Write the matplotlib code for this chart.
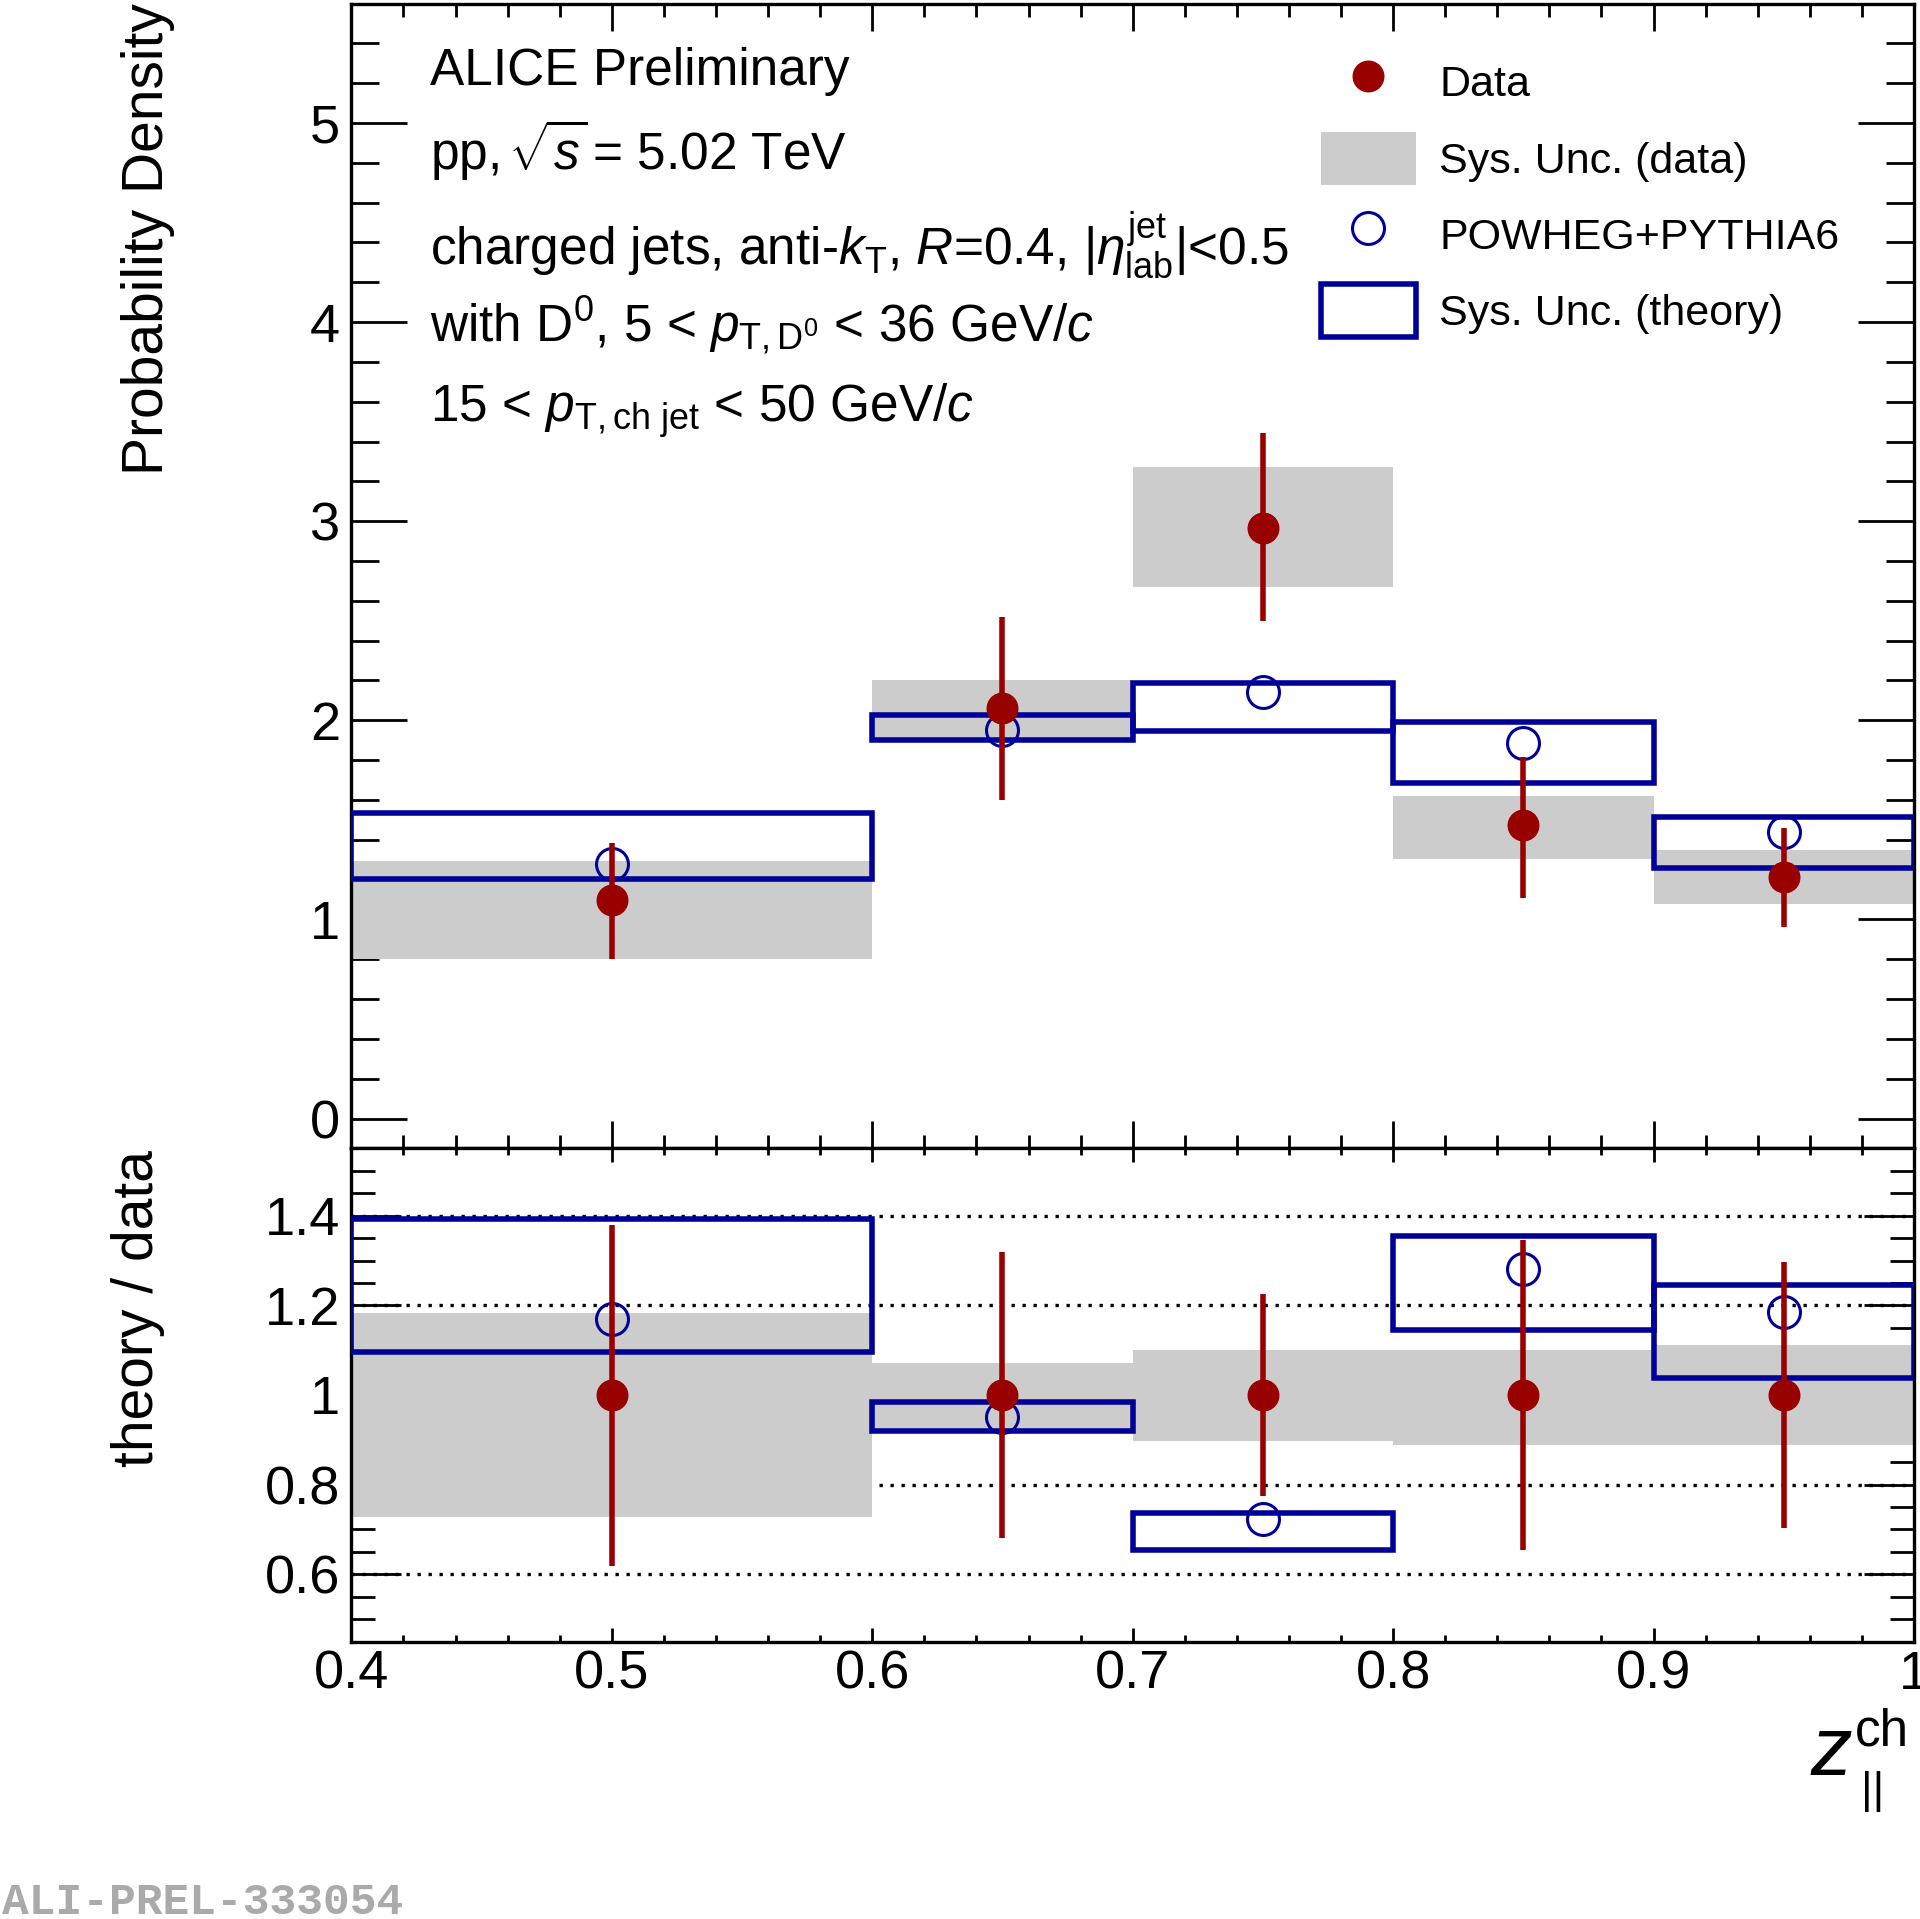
import numpy as np
import matplotlib
matplotlib.use("Agg")
from matplotlib import pyplot as plt
from matplotlib.lines import Line2D
from matplotlib.patches import Patch
from matplotlib.ticker import MultipleLocator, FuncFormatter

plt.rcParams['font.family'] = ['Liberation Sans', 'DejaVu Sans']
plt.rcParams['mathtext.fontset'] = 'custom'
plt.rcParams['mathtext.rm'] = 'Liberation Sans'
plt.rcParams['mathtext.it'] = 'Liberation Sans:italic'
plt.rcParams['mathtext.bf'] = 'Liberation Sans:bold'
plt.rcParams['mathtext.sf'] = 'Liberation Sans'

# z_||^ch binning
bin_edges = [0.4, 0.6, 0.7, 0.8, 0.9, 1.0]
bin_centers = [0.5, 0.65, 0.75, 0.85, 0.95]

# top panel: probability density
data_val = [1.10, 2.063, 2.968, 1.472, 1.213]
data_stat_lo = [0.80, 1.601, 2.50, 1.108, 0.961]
data_stat_hi = [1.385, 2.518, 3.442, 1.817, 1.459]
data_sys_lo = [0.80, 1.897, 2.672, 1.305, 1.078]
data_sys_hi = [1.293, 2.204, 3.270, 1.619, 1.349]

theory_val = [1.28, 1.952, 2.143, 1.884, 1.441]
theory_sys_lo = [1.201, 1.903, 1.946, 1.687, 1.256]
theory_sys_hi = [1.533, 2.026, 2.186, 1.989, 1.515]

# bottom panel: theory / data
ratio_data = [1.0, 1.0, 1.0, 1.0, 1.0]
ratio_stat_lo = [0.618, 0.680, 0.775, 0.654, 0.703]
ratio_stat_hi = [1.379, 1.318, 1.225, 1.346, 1.296]
ratio_sys_lo = [0.728, 0.920, 0.897, 0.888, 0.888]
ratio_sys_hi = [1.182, 1.071, 1.101, 1.101, 1.112]

ratio_theory = [1.169, 0.952, 0.723, 1.281, 1.186]
ratio_theory_lo = [1.096, 0.920, 0.654, 1.144, 1.037]
ratio_theory_hi = [1.393, 0.984, 0.737, 1.355, 1.246]

ratio_lines = [0.6, 0.8, 1.0, 1.2, 1.4]

red = '#990000'
blue = '#000099'
gray = '#cccccc'

W, H = 1920, 1919
fig = plt.figure(figsize=(W / 100, H / 100), dpi=100)

left = 351.4 / W
width = (1914 - 351.4) / W
ax = fig.add_axes([left, 1 - 1148 / H, width, (1148 - 4.5) / H])
axr = fig.add_axes([left, 1 - 1642 / H, width, (1642 - 1148) / H])

widths = np.diff(bin_edges)
lefts = np.array(bin_edges[:-1])


def draw_panel(a, val, st_lo, st_hi, sy_lo, sy_hi, th, th_lo, th_hi):
    val = np.array(val)
    a.bar(lefts, np.array(sy_hi) - np.array(sy_lo), width=widths, bottom=sy_lo,
          align='edge', color=gray, linewidth=0, zorder=2)
    a.bar(lefts, np.array(th_hi) - np.array(th_lo), width=widths, bottom=th_lo,
          align='edge', fill=False, edgecolor=blue, linewidth=4, zorder=3)
    a.plot(bin_centers, th, 'o', mfc='none', mec=blue, mew=2.2, ms=23, zorder=4)
    yerr = [val - np.array(st_lo), np.array(st_hi) - val]
    a.errorbar(bin_centers, val, yerr=yerr, fmt='o', color=red, ms=22,
               elinewidth=4, capsize=0, zorder=5)


draw_panel(ax, data_val, data_stat_lo, data_stat_hi, data_sys_lo, data_sys_hi,
           theory_val, theory_sys_lo, theory_sys_hi)
draw_panel(axr, ratio_data, ratio_stat_lo, ratio_stat_hi, ratio_sys_lo, ratio_sys_hi,
           ratio_theory, ratio_theory_lo, ratio_theory_hi)

for yl in ratio_lines:
    axr.axhline(yl, color='black', linewidth=2.4, linestyle=(0, (1.0, 2.3)), zorder=1)

ax.set_xlim(0.4, 1.0)
axr.set_xlim(0.4, 1.0)
ax.set_ylim(-0.148, 5.595)
axr.set_ylim(0.449, 1.551)

for a in (ax, axr):
    a.xaxis.set_major_locator(MultipleLocator(0.1))
    a.xaxis.set_minor_locator(MultipleLocator(0.02))
    for s in a.spines.values():
        s.set_linewidth(2.4)
    a.tick_params(which='both', direction='in', top=True, right=True, width=2.0,
                  labelsize=39, colors='black')

ax.yaxis.set_major_locator(MultipleLocator(1))
ax.yaxis.set_minor_locator(MultipleLocator(0.2))
ax.tick_params(axis='y', which='major', length=40, pad=8)
ax.tick_params(axis='y', which='minor', length=20)
ax.tick_params(axis='x', which='major', length=19.5)
ax.tick_params(axis='x', which='minor', length=9.7)
ax.tick_params(axis='x', labelbottom=False)

axr.yaxis.set_major_locator(MultipleLocator(0.2))
axr.yaxis.set_minor_locator(MultipleLocator(0.05))
axr.yaxis.set_major_formatter(FuncFormatter(lambda v, p: '%g' % round(v, 2)))
axr.xaxis.set_major_formatter(FuncFormatter(lambda v, p: '%g' % round(v, 2)))
axr.set_yticks([0.6, 0.8, 1.0, 1.2, 1.4])
axr.tick_params(axis='y', which='major', length=36, pad=8)
axr.tick_params(axis='y', which='minor', length=17)
axr.tick_params(axis='x', which='major', length=10, pad=5.5)
axr.tick_params(axis='x', which='minor', length=5)

# axis titles
fig.text(163 / W, 1 - 3 / H, 'Probability Density', fontsize=41, rotation=90,
         rotation_mode='anchor', ha='right', va='baseline')
fig.text(153 / W, 1 - 1150 / H, 'theory / data', fontsize=41, rotation=90,
         rotation_mode='anchor', ha='right', va='baseline')
fig.text(1810 / W, 1 - 1775 / H, 'z', fontsize=60, style='italic', ha='left', va='baseline')
fig.text(1855 / W, 1 - 1745 / H, 'ch', fontsize=37, ha='left', va='baseline')
fig.text(1861 / W, 1 - 1803 / H, '||', fontsize=32, ha='left', va='baseline')

# labels
tx = 430 / W
fig.text(tx, 1 - 85 / H, 'ALICE Preliminary', fontsize=37, va='baseline')
fig.text(tx, 1 - 170 / H, r'pp, $\!\sqrt{s}\!$ = 5.02 TeV', fontsize=37, va='baseline')
fig.text(tx, 1 - 265 / H,
         r'charged jets, anti-$k_{\rm T}$, $R$=0.4, $|\eta^{\rm jet}_{\rm lab}|$<0.5',
         fontsize=37, va='baseline')
fig.text(tx, 1 - 342 / H, r'with D$^{0}$, 5 < $p_{\rm T,D^{0}}$ < 36 GeV/$c$',
         fontsize=37, va='baseline')
fig.text(tx, 1 - 422 / H, r'15 < $p_{\rm T,ch\ jet}$ < 50 GeV/$c$',
         fontsize=37, va='baseline')

# legend
handles = [
    Line2D([], [], marker='o', color=red, linestyle='none', ms=22),
    Patch(facecolor=gray, edgecolor='none'),
    Line2D([], [], marker='o', mfc='none', mec=blue, mew=2.2, linestyle='none', ms=23),
    Patch(facecolor='white', edgecolor=blue, linewidth=4),
]
labels = ['Data', 'Sys. Unc. (data)', 'POWHEG+PYTHIA6', 'Sys. Unc. (theory)']
ax.legend(handles, labels, loc='upper left', bbox_to_anchor=(0.6205, 0.9554),
          frameon=False, fontsize=31, handlelength=2.2, handleheight=1.53,
          labelspacing=0.53, handletextpad=0.55, borderpad=0, borderaxespad=0)

fig.text(0.001, 5 / H, 'ALI-PREL-333054', fontsize=32, family='Liberation Mono',
         weight='bold', color='#aaaaaa', va='baseline')

fig.savefig('out.png', dpi=100)
